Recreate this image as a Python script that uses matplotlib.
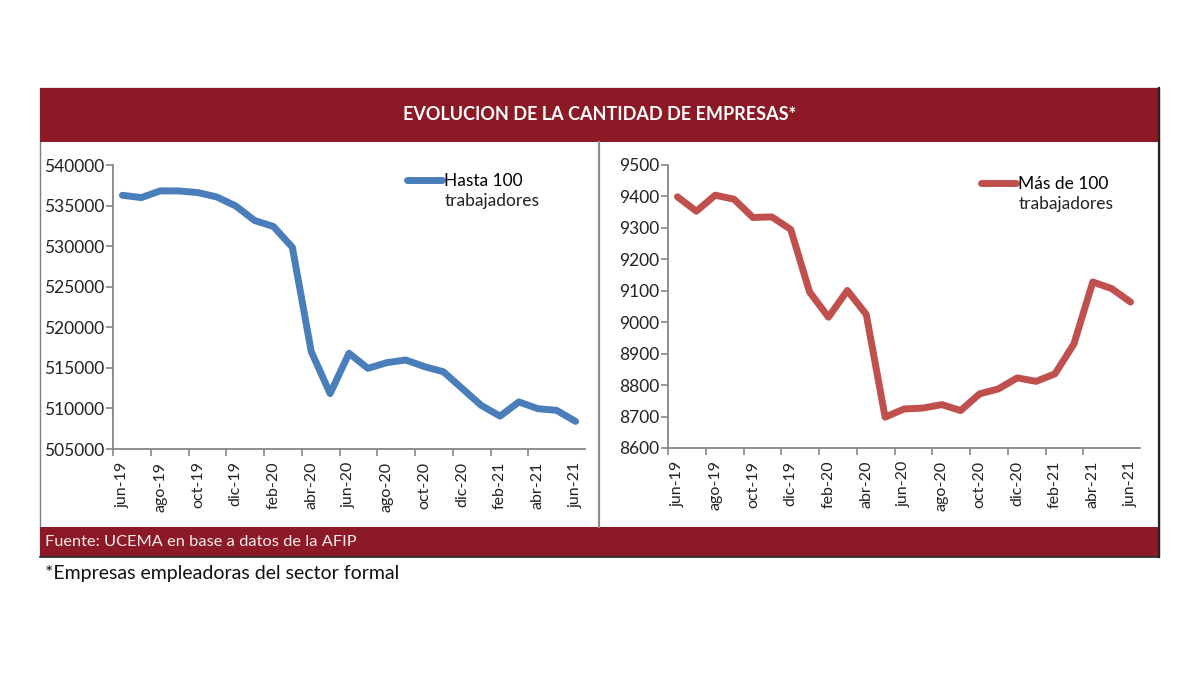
import matplotlib
matplotlib.use("Agg")
import matplotlib.pyplot as plt
from matplotlib.patches import Rectangle
from matplotlib.lines import Line2D

plt.rcParams['font.family'] = ['Lato', 'DejaVu Sans']

months = ["jun-19", "jul-19", "ago-19", "sep-19", "oct-19", "nov-19", "dic-19", "ene-20",
          "feb-20", "mar-20", "abr-20", "may-20", "jun-20", "jul-20", "ago-20", "sep-20",
          "oct-20", "nov-20", "dic-20", "ene-21", "feb-21", "mar-21", "abr-21", "may-21", "jun-21"]

hasta_100 = [536270, 535980, 536810, 536800, 536600, 536060, 534950, 533160, 532420, 529850,
             517010, 511830, 516800, 514940, 515640, 515970, 515150, 514520, 512450, 510380,
             509050, 510800, 509970, 509760, 508400]

mas_100 = [9399, 9353, 9404, 9391, 9333, 9335, 9295, 9096, 9016, 9101,
           9025, 8698, 8724, 8727, 8738, 8719, 8772, 8788, 8823, 8812,
           8836, 8931, 9128, 9107, 9064]

left_yticks = [505000, 510000, 515000, 520000, 525000, 530000, 535000, 540000]
right_yticks = [8600, 8700, 8800, 8900, 9000, 9100, 9200, 9300, 9400, 9500]

title = "EVOLUCION DE LA CANTIDAD DE EMPRESAS*"
source = "Fuente: UCEMA en base a datos de la AFIP"
note = "*Empresas empleadoras del sector formal"

W, H = 1200, 675
DARK_RED = "#8B1A26"
BLUE = "#4A7EBB"
RED = "#C0504D"
AXIS_GRAY = "#868686"

fig = plt.figure(figsize=(W / 100, H / 100), dpi=100)
fig.patch.set_facecolor("white")


def fx(x):
    return x / W


def fy(y):
    return 1 - y / H


def rect(x0, y0, x1, y1, **kw):
    fig.add_artist(Rectangle((fx(x0), fy(y1)), fx(x1) - fx(x0), fy(y0) - fy(y1),
                             transform=fig.transFigure, **kw))


# frame & bars
rect(40, 88, 1159, 556, facecolor="white", edgecolor="#7f7f7f", linewidth=1.0, zorder=0)
rect(40, 88, 1159, 142, facecolor=DARK_RED, edgecolor="none", zorder=1)
rect(40, 527, 1159, 556, facecolor=DARK_RED, edgecolor="none", zorder=1)
fig.add_artist(Line2D([fx(1159), fx(1159)], [fy(88), fy(557)], transform=fig.transFigure,
                      color="#222222", linewidth=1.6, zorder=2))
fig.add_artist(Line2D([fx(40), fx(1159)], [fy(556.5), fy(556.5)], transform=fig.transFigure,
                      color="#222222", linewidth=1.2, zorder=2))
fig.add_artist(Line2D([fx(599), fx(599)], [fy(142), fy(527)], transform=fig.transFigure,
                      color="#8c8c8c", linewidth=1.6, zorder=2))

fig.text(fx(600), fy(115), title, color="white", fontsize=13, fontweight="bold",
         ha="center", va="center")
fig.text(fx(45), fy(542), source, color="#F8ECEC", fontsize=11.8, ha="left", va="center")
fig.text(fx(45), fy(574), note, color="#111111", fontsize=14, ha="left", va="center")


def make_panel(x0, x1, y0, y1, values, yticks, color, label1, label2, leg_x, leg_y, ylabelfmt):
    ax = fig.add_axes([fx(x0), fy(y1), fx(x1) - fx(x0), fy(y0) - fy(y1)])
    ax.patch.set_alpha(0)
    xs = list(range(len(months)))
    line, = ax.plot(xs, values, color=color, linewidth=5.0, solid_joinstyle="round",
                    solid_capstyle="round", zorder=3)
    ax.set_xlim(-0.5, len(months) - 0.5)
    ax.set_ylim(yticks[0], yticks[-1])
    ax.set_yticks(yticks)
    ax.set_yticklabels([ylabelfmt(v) for v in yticks])
    ax.set_xticks(xs[::2])
    ax.set_xticklabels(months[::2], rotation=90)
    ax.set_xticks([x - 0.5 for x in xs[::2]][:-1], minor=True)
    ax.tick_params(axis="x", which="major", length=0, pad=9, labelsize=11.5, labelcolor="#222222")
    ax.tick_params(axis="x", which="minor", length=5, width=1.2, color=AXIS_GRAY, direction="out")
    ax.tick_params(axis="y", which="major", length=5, width=1.2, color=AXIS_GRAY, pad=1.5,
                   labelsize=12.5, labelcolor="#222222")
    for s in ("top", "right"):
        ax.spines[s].set_visible(False)
    for s in ("left", "bottom"):
        ax.spines[s].set_color(AXIS_GRAY)
        ax.spines[s].set_linewidth(1.3)
    ax.legend(handles=[line], labels=[label1], loc="center left",
              bbox_to_anchor=(fx(leg_x), fy(leg_y)), bbox_transform=fig.transFigure,
              frameon=False, handlelength=2.0, handletextpad=0.15, borderpad=0,
              borderaxespad=0, fontsize=12.5)
    fig.text(fx(leg_x + 38), fy(leg_y + 20), label2, fontsize=12.5, color="#222222",
             ha="left", va="center")
    return ax


make_panel(113, 585, 165, 449, hasta_100, left_yticks, BLUE, "Hasta 100", "trabajadores",
           407, 181, lambda v: f"{v:d}")
make_panel(668, 1140, 165, 448, mas_100, right_yticks, RED, "Más de 100", "trabajadores",
           981, 184, lambda v: f"{v:d}")

fig.savefig("out.png", dpi=100, facecolor="white")
